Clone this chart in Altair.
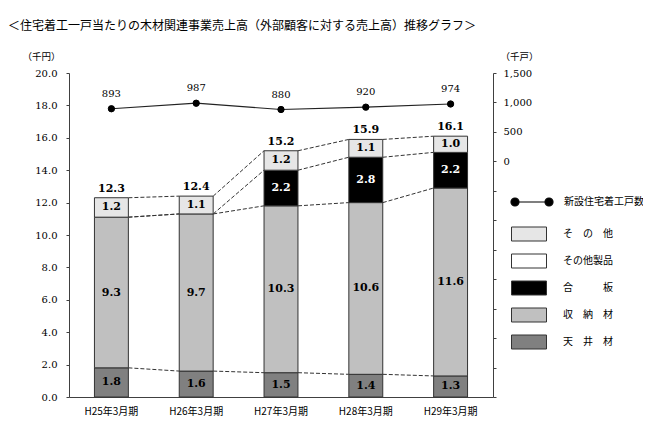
import altair as alt
import pandas as pd
import numpy as np

# ---- data ----
years = ["H25年3月期", "H26年3月期", "H27年3月期", "H28年3月期", "H29年3月期"]
ceiling = [1.8, 1.6, 1.5, 1.4, 1.3]          # 天井材
storage = [9.3, 9.7, 10.3, 10.6, 11.6]       # 収納材
plywood = [0.0, 0.0, 2.2, 2.8, 2.2]          # 合板
other_products = [0.0, 0.0, 0.0, 0.0, 0.0]   # その他製品
other = [1.2, 1.1, 1.2, 1.1, 1.0]            # その他
totals = [12.3, 12.4, 15.2, 15.9, 16.1]
housing_starts = [893, 987, 880, 920, 974]   # 新設住宅着工戸数（千戸）

stack_names = ["天井材", "収納材", "合板", "その他製品", "その他"]   # bottom -> top
stack_series = [ceiling, storage, plywood, other_products, other]
legend_order = ["その他", "その他製品", "合板", "収納材", "天井材"]
legend_colors = ["#e6e6e6", "#ffffff", "#000000", "#c0c0c0", "#808080"]
line_name = "新設住宅着工戸数"

JP = "Noto Sans CJK JP"
NUM = "DejaVu Serif"

rows = []
for i, y in enumerate(years):
    for o, (name, arr) in enumerate(zip(stack_names, stack_series)):
        if arr[i] > 0:
            rows.append({"year": y, "cat": name, "value": arr[i], "ord": o})
seg_df = pd.DataFrame(rows)

cum = np.cumsum(np.array(stack_series), axis=0)
conn_rows = []
for b in [0, 1, 2, 4]:
    for i in range(len(years) - 1):
        conn_rows.append({"year": years[i], "next": years[i + 1],
                          "ya": float(round(cum[b][i], 2)), "yb": float(round(cum[b][i + 1], 2))})
conn_df = pd.DataFrame(conn_rows)

tot_df = pd.DataFrame({"year": years, "total": totals})
house_df = pd.DataFrame({"year": years, "houses": housing_starts, "s": [line_name] * len(years)})

xenc = alt.X("year:N", sort=years,
             scale=alt.Scale(paddingInner=0.6, paddingOuter=0.3),
             axis=alt.Axis(title=None, labelAngle=0, ticks=False, labelFont=JP,
                           labelFontSize=10, labelPadding=9))


def lscale():
    return alt.Scale(domain=[0, 20], nice=False, zero=True)


def rscale():
    return alt.Scale(domain=[-4000, 1500], nice=False, zero=False)


left_axis = alt.Axis(values=list(range(0, 21, 2)), format=".1f",
                     title="（千円）", titleAngle=0, titleX=-28, titleY=-17,
                     titleAlign="center", titleBaseline="middle", titleFont=JP,
                     titleFontSize=9.5, titleFontWeight="normal",
                     tickSize=3, labelPadding=9, labelFont=NUM, labelFontSize=10)
right_axis = alt.Axis(orient="right", values=list(range(-4000, 1501, 500)),
                      labelExpr="datum.value >= 0 ? format(datum.value, ',') : ''",
                      title="（千戸）", titleAngle=0, titleX=26, titleY=-17,
                      titleAlign="center", titleBaseline="middle", titleFont=JP,
                      titleFontSize=9.5, titleFontWeight="normal",
                      tickSize=3, labelPadding=7, labelFont=NUM, labelFontSize=10)

rect_path = "M-1,-0.4L1,-0.4L1,0.4L-1,0.4Z"
line_path = ("M-0.81,0L0.81,0"
             "M-1,0A0.19,0.19,0,1,0,-0.62,0A0.19,0.19,0,1,0,-1,0Z"
             "M0.62,0A0.19,0.19,0,1,0,1,0A0.19,0.19,0,1,0,0.62,0Z")

label_expr = ("datum.label == 'その他' ? 'そ　の　他' : "
              "datum.label == '合板' ? '合　　　板' : "
              "datum.label == '収納材' ? '収　納　材' : "
              "datum.label == '天井材' ? '天　井　材' : datum.label")

connectors = alt.Chart(conn_df).mark_rule(
    strokeDash=[4, 2], stroke="#333333", strokeWidth=1, xOffset=17, x2Offset=-17
).encode(
    x=xenc, x2="next",
    y=alt.Y("ya:Q", scale=lscale(), axis=None), y2="yb:Q",
)

stacked = alt.Chart(seg_df).transform_stack(
    stack="value", groupby=["year"], as_=["y0", "y1"], sort=[alt.SortField("ord", order="ascending")]
)

bars = stacked.mark_bar(stroke="#333333", strokeWidth=1).encode(
    x=xenc,
    y=alt.Y("y0:Q", scale=lscale(), axis=left_axis),
    y2="y1:Q",
    fill=alt.Fill("cat:N", scale=alt.Scale(domain=legend_order, range=legend_colors),
                  legend=alt.Legend(title=None, orient="none", legendX=442, legendY=143,
                                    symbolType=rect_path, symbolSize=1225,
                                    symbolStrokeColor="#333333", symbolStrokeWidth=1,
                                    labelOffset=16, labelExpr=label_expr, rowPadding=0,
                                    padding=0, labelFont=JP, labelFontSize=10,
                                    labelColor="black")),
)

seg_text = stacked.transform_calculate(mid="(datum.y0 + datum.y1) / 2").mark_text(
    font=NUM, fontWeight="bold", fontSize=11, baseline="middle"
).encode(
    x=xenc,
    y=alt.Y("mid:Q", scale=lscale(), axis=None),
    text=alt.Text("value:Q", format=".1f"),
    color=alt.condition(alt.datum.cat == "合板", alt.value("white"), alt.value("black")),
)

tot_text = alt.Chart(tot_df).mark_text(
    font=NUM, fontWeight="bold", fontSize=11, baseline="alphabetic", dy=-6, color="black"
).encode(
    x=xenc,
    y=alt.Y("total:Q", scale=lscale(), axis=None),
    text=alt.Text("total:Q", format=".1f"),
)

hline = alt.Chart(house_df).mark_line(color="#222222", strokeWidth=1.2).encode(
    x=xenc, y=alt.Y("houses:Q", scale=rscale(), axis=right_axis)
)
hpts = alt.Chart(house_df).mark_circle(size=40, color="black", opacity=1, strokeWidth=1).encode(
    x=xenc,
    y=alt.Y("houses:Q", scale=rscale(), axis=None),
    stroke=alt.Stroke("s:N", scale=alt.Scale(range=["black"]),
                      legend=alt.Legend(title=None, orient="none", legendX=441, legendY=107,
                                        symbolType=line_path, symbolSize=1764,
                                        symbolFillColor="black", symbolStrokeColor="black",
                                        symbolStrokeWidth=1.2, symbolOpacity=1,
                                        labelOffset=10, padding=0, labelFont=JP,
                                        labelFontSize=10, labelColor="black")),
)
htext = alt.Chart(house_df).mark_text(
    font=NUM, fontSize=10, baseline="alphabetic", dy=-12, color="black"
).encode(
    x=xenc,
    y=alt.Y("houses:Q", scale=rscale(), axis=None),
    text=alt.Text("houses:Q", format="d"),
)

chart = alt.layer(connectors, bars, seg_text, tot_text, hline, hpts, htext).resolve_scale(
    y="independent"
).properties(
    width=424, height=324,
    autosize=alt.AutoSizeParams(type="none"),
    padding={"left": 61, "top": 65, "right": 150, "bottom": 22},
    title=alt.TitleParams(
        "＜住宅着工一戸当たりの木材関連事業売上高（外部顧客に対する売上高）推移グラフ＞",
        anchor="start", frame="group", dx=-61, offset=18,
        font=JP, fontSize=12, fontWeight="normal", color="black"),
).configure_view(stroke=None).configure_axis(
    grid=False, labelColor="black", titleColor="black",
    domainColor="#404040", tickColor="#404040", domainWidth=1)

chart.save("out.html", embed_options={"renderer": "svg", "actions": False})
